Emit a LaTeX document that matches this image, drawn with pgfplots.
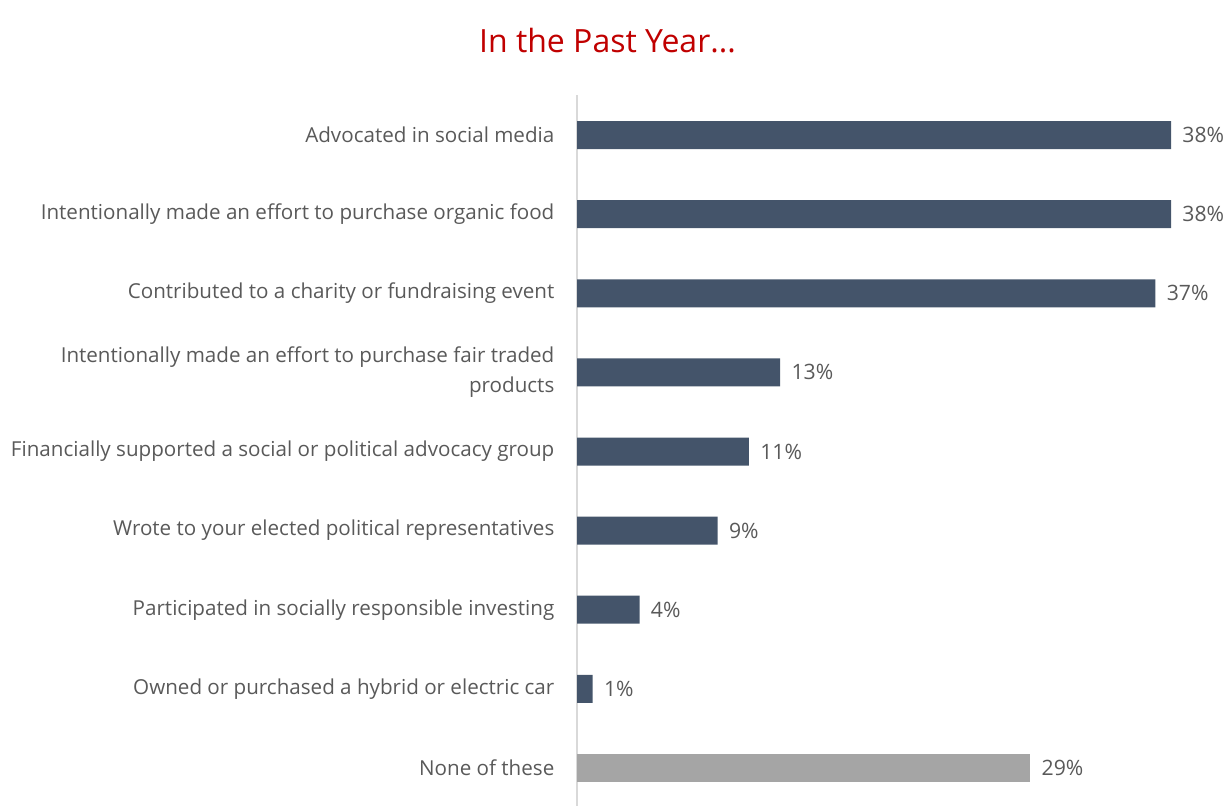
\documentclass[border=0pt]{standalone}
\usepackage{pgfplots}
\pgfplotsset{compat=1.18}
\usepackage{fontspec}
\setmainfont{Open Sans}
\definecolor{barblue}{HTML}{44546A}
\definecolor{bargray}{HTML}{A5A5A5}
\definecolor{titlered}{HTML}{C00000}
\definecolor{labelgray}{HTML}{595959}
\definecolor{axisgray}{HTML}{D9D9D9}
\begin{document}
\begin{tikzpicture}
\path[use as bounding box] (0,0) rectangle (615pt,403pt);
\node[anchor=base, text=titlered, font=\fontsize{16}{20}\selectfont, inner sep=0pt]
  at (303.75pt,376.5pt) {In the Past Year...};
\begin{axis}[
  at={(288.5pt,-0.75pt)}, anchor=south west,
  scale only axis, width=297pt, height=356pt,
  xbar, bar width=14pt, bar shift=0pt,
  xmin=0, xmax=38, ymin=-0.5, ymax=8.5,
  y dir=reverse,
  axis x line=none, axis y line=left,
  y axis line style={draw=axisgray, line width=0.8pt, -},
  ytick={0,1,2,3,4,5,6,7,8},
  yticklabels={Advocated in social media,
    Intentionally made an effort to purchase organic food,
    Contributed to a charity or fundraising event,
    {Intentionally made an effort to purchase fair traded\\products},
    Financially supported a social or political advocacy group,
    Wrote to your elected political representatives,
    Participated in socially responsible investing,
    Owned or purchased a hybrid or electric car,
    None of these},
  ytick style={draw=none},
  yticklabel style={align=right, inner sep=0pt, xshift=-9pt, text=labelgray,
    font=\fontsize{10.3}{15}\selectfont},
  point meta=x,
  nodes near coords={\pgfmathprintnumber{\pgfplotspointmeta}\%},
  nodes near coords style={anchor=west, inner sep=0pt, xshift=5.5pt, text=labelgray,
    font=\fontsize{10.6}{13}\selectfont},
  /pgf/number format/assume math mode=true,
  clip=false,
]
\addplot[fill=barblue, draw=none] coordinates {
  (38,0) (38,1) (37,2) (13,3) (11,4) (9,5) (4,6) (1,7)};
\addplot[fill=bargray, draw=none] coordinates {(29,8)};
\end{axis}
\end{tikzpicture}
\end{document}
